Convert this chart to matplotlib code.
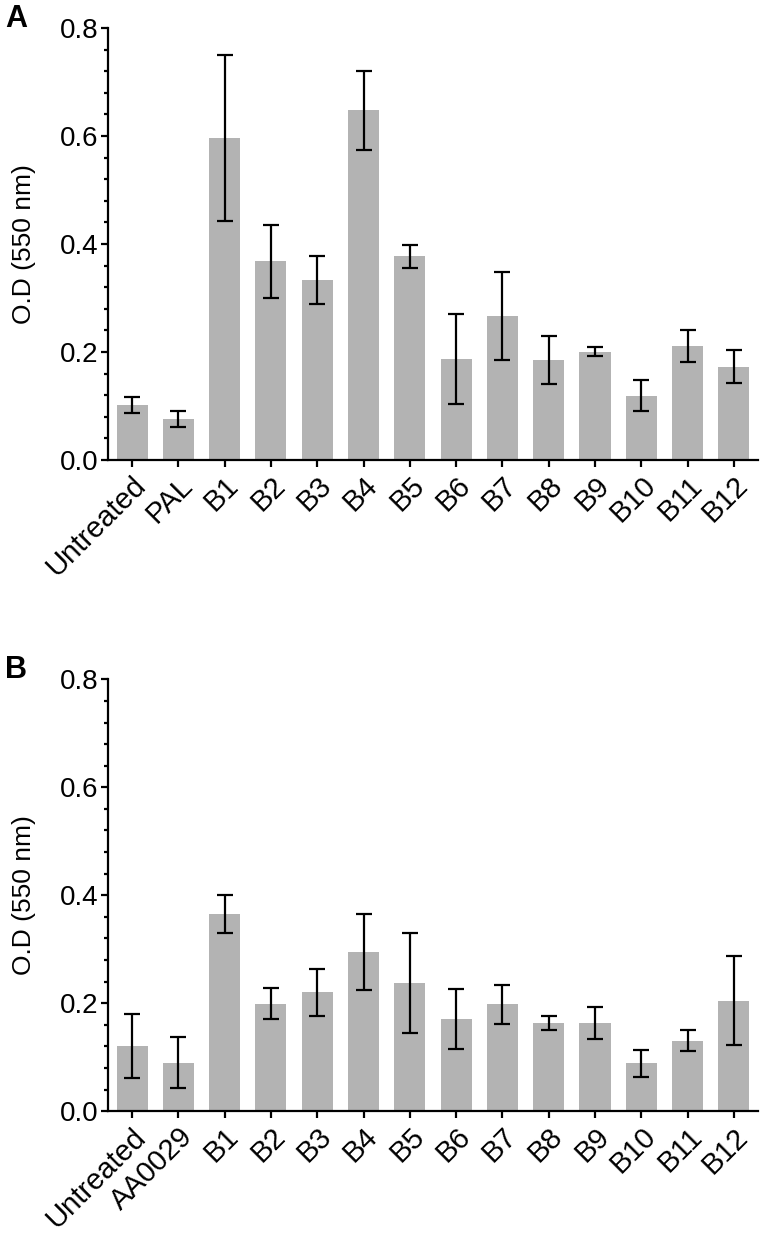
import numpy as np
import matplotlib.pyplot as plt
from matplotlib.ticker import MultipleLocator

plt.rcParams['font.family'] = ['Liberation Sans', 'DejaVu Sans']

# Panel A data
labels_a = ["Untreated", "PAL", "B1", "B2", "B3", "B4", "B5", "B6", "B7",
            "B8", "B9", "B10", "B11", "B12"]
mean_a = [0.102, 0.076, 0.596, 0.368, 0.333, 0.648, 0.377, 0.187, 0.267,
          0.185, 0.201, 0.119, 0.211, 0.173]
err_a = [0.014, 0.015, 0.154, 0.067, 0.044, 0.073, 0.022, 0.084, 0.082,
         0.044, 0.008, 0.029, 0.030, 0.031]

# Panel B data
labels_b = ["Untreated", "AA0029", "B1", "B2", "B3", "B4", "B5", "B6", "B7",
            "B8", "B9", "B10", "B11", "B12"]
mean_b = [0.121, 0.090, 0.366, 0.199, 0.220, 0.295, 0.238, 0.171, 0.198,
          0.164, 0.164, 0.089, 0.131, 0.205]
err_b = [0.060, 0.047, 0.035, 0.029, 0.044, 0.070, 0.093, 0.055, 0.036,
         0.013, 0.030, 0.025, 0.020, 0.083]

fig = plt.figure(figsize=(7.62, 12.36), dpi=100)
ax_a = fig.add_axes([0.1417, 0.6278, 0.853, 0.3495])
ax_b = fig.add_axes([0.1417, 0.1009, 0.853, 0.3495])


def draw(ax, labels, mean, err, letter):
    x = np.arange(len(labels))
    ax.bar(x, mean, width=0.67, color='#b3b3b3')
    ax.errorbar(x, mean, yerr=err, fmt='none', ecolor='black',
                elinewidth=1.6, capsize=6, capthick=1.6)
    ax.set_xlim(-0.52, len(labels) - 0.48)
    ax.set_ylim(0, 0.8)
    ax.yaxis.set_major_locator(MultipleLocator(0.2))
    ax.yaxis.set_minor_locator(MultipleLocator(0.04))
    ax.set_yticklabels([f"{v:.1f}" for v in ax.get_yticks()])
    ax.set_xticks(x)
    ax.set_xticklabels(labels, rotation=45, ha='right',
                       rotation_mode='anchor')
    ax.spines['top'].set_visible(False)
    ax.spines['right'].set_visible(False)
    ax.spines['left'].set_linewidth(1.6)
    ax.spines['bottom'].set_linewidth(1.6)
    ax.tick_params(axis='y', which='major', labelsize=20, width=1.6,
                   length=5, pad=2)
    ax.tick_params(axis='x', which='major', labelsize=21, width=1.6,
                   length=5, pad=3)
    ax.tick_params(axis='y', which='minor', width=1.6, length=3)
    ax.set_ylabel('O.D (550 nm)', fontsize=19, labelpad=17)
    ax.text(-0.158, 1.022, letter, transform=ax.transAxes, fontsize=22,
            fontweight='bold', va='center', ha='left')


draw(ax_a, labels_a, mean_a, err_a, 'A')
draw(ax_b, labels_b, mean_b, err_b, 'B')

fig.savefig('out.png', dpi=100)
